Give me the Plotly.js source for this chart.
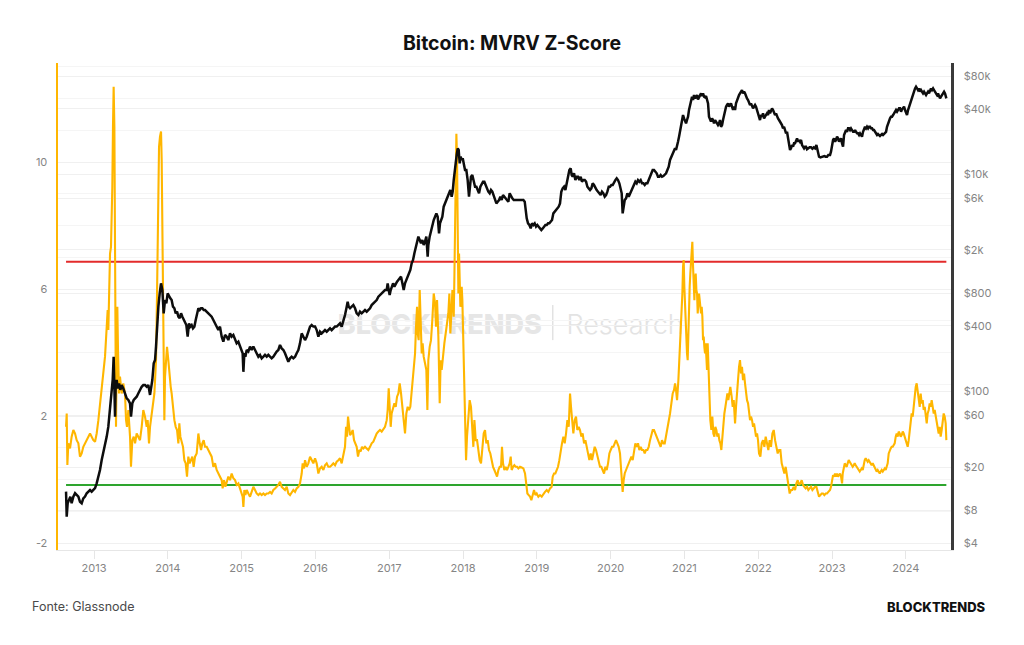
<!DOCTYPE html>
<html><head><meta charset="utf-8">
<script src="https://cdn.plot.ly/plotly-3.0.1.min.js"></script>
<style>html,body{margin:0;padding:0;background:#fff}#chart{width:1024px;height:645px}</style>
</head><body><div id="chart"></div>
<script>
// MVRV Z-Score (left axis), decimal years
const zYear = [
2012.621,2012.630,2012.639,2012.652,2012.675,2012.697,2012.720,2012.743,2012.765,2012.788,2012.810,2012.833,2012.855,2012.878,2012.901,2012.923,2012.946,2012.968,2012.991,
2013.014,2013.036,2013.059,2013.081,2013.104,2013.126,2013.149,2013.172,2013.185,2013.194,2013.208,2013.217,2013.230,2013.239,2013.248,2013.257,2013.266,2013.276,2013.285,2013.294,2013.298,
2013.307,2013.316,2013.325,2013.339,2013.352,2013.375,2013.397,2013.420,2013.434,2013.447,2013.465,2013.488,2013.501,2013.519,2013.538,2013.556,2013.578,2013.601,2013.623,2013.646,
2013.668,2013.691,2013.714,2013.727,2013.745,2013.759,2013.781,2013.799,2013.818,2013.827,2013.840,2013.854,2013.863,2013.872,2013.881,2013.894,2013.908,2013.917,2013.926,2013.935,
2013.944,2013.953,2013.962,2013.976,2013.989,2014.007,2014.021,2014.039,2014.052,2014.070,2014.089,2014.107,2014.125,2014.143,2014.156,2014.170,2014.188,2014.206,2014.224,2014.242,
2014.260,2014.278,2014.296,2014.314,2014.332,2014.350,2014.369,2014.391,2014.414,2014.432,2014.450,2014.468,2014.486,2014.504,2014.527,2014.549,2014.572,2014.594,2014.617,2014.640,
2014.662,2014.685,2014.707,2014.730,2014.743,2014.762,2014.780,2014.798,2014.820,2014.843,2014.865,2014.888,2014.911,2014.933,2014.956,2014.978,2015.001,2015.014,2015.024,2015.037,
2015.051,2015.069,2015.091,2015.114,2015.136,2015.159,2015.182,2015.204,2015.227,2015.249,2015.272,2015.295,2015.317,2015.340,2015.362,2015.385,2015.407,2015.430,2015.453,2015.475,
2015.498,2015.520,2015.543,2015.566,2015.588,2015.611,2015.633,2015.656,2015.678,2015.701,2015.724,2015.746,2015.769,2015.791,2015.814,2015.827,2015.846,2015.859,2015.882,2015.904,
2015.927,2015.949,2015.972,2015.995,2016.017,2016.040,2016.062,2016.085,2016.108,2016.130,2016.153,2016.175,2016.198,2016.220,2016.243,2016.266,2016.288,2016.311,2016.333,2016.356,
2016.379,2016.401,2016.415,2016.428,2016.442,2016.455,2016.469,2016.487,2016.505,2016.523,2016.541,2016.559,2016.577,2016.595,2016.613,2016.631,2016.650,
2016.672,2016.695,2016.717,2016.740,2016.762,2016.785,2016.808,2016.830,2016.853,2016.875,2016.898,2016.921,2016.943,2016.966,2016.979,2016.993,2017.006,2017.020,2017.033,2017.052,
2017.070,2017.088,2017.106,2017.124,2017.142,2017.160,2017.178,2017.196,2017.214,2017.232,2017.250,2017.268,2017.286,2017.304,2017.318,2017.332,2017.350,2017.363,2017.377,2017.386,
2017.399,2017.413,2017.426,2017.440,2017.453,2017.467,2017.485,2017.503,2017.517,2017.530,2017.548,2017.566,2017.584,2017.603,2017.621,2017.634,2017.648,2017.666,2017.684,2017.697,
2017.711,2017.729,2017.747,2017.765,2017.783,2017.801,2017.815,2017.828,2017.842,2017.856,2017.865,2017.874,2017.883,2017.892,2017.901,2017.910,2017.919,2017.928,2017.937,2017.946,
2017.955,2017.964,2017.973,2017.982,2017.991,2018.005,2018.018,2018.032,2018.041,2018.054,2018.072,2018.090,2018.108,2018.126,2018.140,2018.154,2018.172,2018.190,2018.208,2018.226,
2018.244,2018.262,2018.280,2018.298,2018.316,2018.334,2018.352,2018.370,2018.388,2018.407,2018.425,2018.443,2018.461,2018.479,2018.497,2018.515,2018.528,2018.542,2018.560,2018.578,
2018.596,2018.614,2018.632,2018.646,2018.659,2018.678,2018.696,2018.714,2018.732,2018.750,
2018.772,2018.795,2018.818,2018.840,2018.854,2018.872,2018.890,2018.908,2018.926,2018.944,2018.962,2018.980,2018.998,2019.021,2019.043,2019.066,2019.089,2019.111,2019.134,2019.156,
2019.179,2019.201,2019.215,2019.233,2019.251,2019.269,2019.287,2019.305,2019.323,2019.341,2019.360,2019.378,2019.396,2019.414,2019.432,2019.450,2019.463,2019.477,2019.495,2019.513,
2019.531,2019.549,2019.567,2019.585,2019.603,2019.621,2019.640,2019.658,2019.676,2019.694,2019.712,2019.730,2019.748,2019.766,2019.784,2019.802,2019.820,2019.838,2019.856,2019.874,
2019.892,2019.911,2019.929,2019.947,2019.965,2019.983,2020.001,2020.019,2020.037,2020.055,2020.073,2020.091,2020.109,2020.127,2020.141,2020.154,2020.163,2020.177,2020.191,2020.209,
2020.227,2020.245,2020.263,2020.281,2020.299,2020.317,2020.335,2020.353,2020.371,2020.389,2020.407,2020.425,2020.444,2020.462,2020.480,2020.498,2020.516,2020.534,2020.552,2020.570,
2020.588,2020.606,2020.624,2020.642,2020.660,2020.678,2020.696,2020.715,2020.733,2020.751,2020.769,2020.787,2020.805,2020.823,2020.841,2020.859,
2020.873,2020.886,2020.900,2020.918,2020.931,2020.945,2020.958,2020.972,2020.981,2020.990,2020.999,2021.008,2021.022,2021.035,2021.044,2021.053,2021.062,2021.071,2021.080,2021.089,
2021.098,2021.107,2021.117,2021.126,2021.135,2021.144,2021.153,2021.162,2021.171,2021.180,2021.189,2021.198,2021.207,2021.216,2021.225,2021.234,2021.243,2021.252,2021.261,2021.270,
2021.279,2021.288,2021.297,2021.306,2021.315,2021.324,2021.338,2021.351,2021.365,2021.378,2021.392,2021.406,2021.419,2021.433,2021.446,2021.460,2021.473,2021.487,2021.500,2021.514,
2021.528,2021.541,2021.555,2021.568,2021.582,2021.595,2021.609,2021.622,2021.640,2021.654,2021.668,2021.686,2021.699,2021.713,2021.726,2021.740,2021.753,2021.767,2021.780,2021.794,
2021.808,2021.821,2021.835,2021.848,2021.862,2021.875,2021.889,2021.902,2021.916,2021.930,2021.943,2021.957,2021.970,2021.984,2021.997,2022.011,2022.029,2022.047,2022.065,2022.083,
2022.101,2022.119,2022.137,2022.155,2022.173,2022.192,2022.210,2022.228,2022.246,2022.264,2022.282,2022.300,2022.318,2022.336,2022.354,2022.372,2022.390,2022.408,2022.426,2022.444,
2022.462,2022.481,2022.499,2022.517,2022.535,2022.553,2022.571,2022.589,2022.607,2022.625,2022.643,2022.661,2022.679,2022.697,2022.715,2022.734,2022.752,2022.770,2022.788,2022.806,
2022.824,2022.842,2022.860,2022.878,2022.896,2022.914,2022.932,2022.950,
2022.973,2022.986,2023.000,2023.014,2023.027,2023.041,2023.054,2023.068,2023.081,2023.095,2023.108,2023.122,2023.136,2023.145,2023.158,2023.172,2023.185,2023.199,2023.212,2023.226,
2023.239,2023.253,2023.267,2023.280,2023.294,2023.307,2023.321,2023.334,2023.348,2023.361,2023.375,2023.388,2023.402,2023.416,2023.429,2023.443,2023.456,2023.470,2023.483,2023.497,
2023.510,2023.524,2023.537,2023.551,2023.565,2023.578,2023.592,2023.605,2023.619,2023.632,2023.646,2023.659,2023.673,2023.687,2023.700,2023.714,2023.727,2023.741,2023.754,2023.768,
2023.781,2023.795,2023.808,2023.822,2023.836,2023.849,2023.863,2023.876,2023.890,2023.903,2023.917,2023.930,2023.944,2023.958,2023.971,2023.985,2023.998,2024.012,2024.025,2024.039,
2024.052,2024.066,2024.079,2024.093,2024.107,2024.120,2024.134,2024.147,2024.161,2024.174,2024.188,2024.201,2024.215,2024.229,2024.242,2024.256,2024.269,2024.283,2024.296,2024.310,
2024.323,2024.337,2024.350,2024.364,2024.378,2024.391,2024.405,2024.418,2024.432,2024.445,2024.459,2024.472,2024.486,2024.500,2024.513,2024.527,2024.540,2024.549
];
const zScore = [
1.66,2.08,0.46,1.14,0.98,1.35,1.56,1.45,1.24,1.14,0.72,0.82,1.03,1.14,1.24,1.35,1.45,1.35,1.24,
1.19,1.45,1.87,2.40,2.92,3.45,3.87,4.81,5.34,4.71,6.07,7.12,7.33,8.17,9.22,11.11,12.37,11.11,4.81,2.71,1.66,
3.76,5.44,4.08,2.71,3.24,2.71,3.03,2.71,1.87,1.66,2.19,1.35,0.40,1.24,1.35,1.14,1.45,1.35,1.24,1.66,
2.19,1.98,1.66,1.87,1.14,1.66,2.08,2.29,2.71,3.13,3.76,5.86,7.96,9.54,10.48,10.80,10.96,10.06,7.96,5.86,
3.97,1.87,3.24,3.97,4.18,3.76,3.24,2.92,2.71,2.19,1.87,1.66,1.56,1.14,1.77,1.35,1.14,1.03,0.61,0.51,
0.09,0.72,0.51,0.61,0.72,0.40,0.72,0.82,1.45,1.14,0.93,1.14,1.24,1.03,1.03,0.93,0.82,0.72,0.40,0.51,
0.30,0.19,0.09,-0.02,-0.28,-0.02,-0.23,-0.07,0.09,-0.02,0.19,0.04,-0.02,-0.17,-0.12,-0.28,-0.44,-0.54,-0.86,-0.33,
-0.49,-0.33,-0.44,-0.54,-0.39,-0.23,-0.33,-0.44,-0.49,-0.44,-0.49,-0.44,-0.49,-0.44,-0.44,-0.39,-0.44,-0.33,-0.28,-0.23,
-0.17,-0.07,-0.23,-0.28,-0.33,-0.23,-0.44,-0.49,-0.39,-0.33,-0.39,-0.28,-0.23,-0.12,0.19,0.51,0.35,0.61,0.40,0.51,
0.72,0.61,0.51,0.67,0.51,0.19,0.35,0.40,0.30,0.45,0.51,0.40,0.40,0.45,0.51,0.45,0.56,0.61,0.67,0.51,
0.82,1.03,1.66,1.35,1.98,1.56,1.40,1.45,1.56,1.24,1.14,1.03,0.72,0.93,0.88,1.03,0.98,
1.03,0.98,0.93,1.03,1.14,1.19,1.35,1.45,1.51,1.56,1.51,1.61,1.66,1.87,2.19,2.87,1.98,1.66,2.08,2.29,
2.40,2.29,2.61,2.71,3.03,2.71,2.19,1.87,1.45,2.08,2.29,2.19,2.29,2.71,3.13,3.55,3.97,4.81,5.44,4.60,
4.39,5.97,5.23,3.97,4.29,3.87,3.66,3.45,2.19,3.76,4.18,4.39,5.02,5.86,5.55,4.81,5.65,4.50,2.40,3.76,
3.45,3.97,4.29,4.60,4.92,5.23,5.86,4.60,5.23,5.97,5.65,5.13,6.39,7.96,9.22,10.89,10.06,8.17,5.86,7.12,
5.86,5.44,5.65,6.07,5.65,4.08,2.92,2.08,0.61,1.35,2.08,2.50,2.29,1.56,1.03,1.87,1.24,1.24,0.82,0.61,
0.51,1.14,1.45,1.56,1.14,1.24,0.93,0.82,0.61,0.40,0.30,0.19,0.09,0.30,0.40,0.40,1.03,0.51,0.30,0.40,
0.30,0.40,0.51,0.72,0.30,0.40,0.45,0.40,0.40,0.35,
0.40,0.38,0.35,0.19,-0.12,-0.44,-0.49,-0.54,-0.65,-0.44,-0.33,-0.49,-0.44,-0.54,-0.49,-0.54,-0.44,-0.39,-0.33,-0.39,
-0.28,-0.23,0.09,0.19,0.19,0.30,0.40,0.61,0.93,1.14,1.35,1.14,1.45,1.87,1.66,2.71,2.29,1.87,1.45,1.87,
1.98,1.56,1.66,1.56,1.35,1.45,1.14,1.24,1.03,0.72,0.61,0.82,0.61,0.82,1.03,0.93,0.72,0.51,0.40,0.40,
0.30,0.19,0.40,0.30,0.51,0.82,0.93,1.03,1.03,1.14,1.24,1.14,1.03,0.82,0.40,-0.02,-0.39,-0.02,0.19,0.30,
0.40,0.51,0.61,0.72,0.61,0.93,1.14,1.03,1.14,0.93,1.03,0.93,0.93,0.82,0.93,0.93,1.03,1.24,1.45,1.56,
1.56,1.45,1.35,1.24,1.14,1.03,1.24,1.14,1.14,1.35,1.56,1.87,2.08,2.40,2.71,2.82,
3.03,2.82,2.50,3.13,3.76,4.39,5.23,5.86,6.70,6.91,6.07,5.44,4.50,3.97,3.76,4.71,5.34,6.07,6.49,6.91,
7.23,7.49,6.70,6.07,5.65,6.28,6.49,5.97,5.86,5.23,5.44,5.86,5.65,5.34,5.23,5.44,5.13,4.39,4.50,4.18,
3.97,4.29,3.76,3.45,4.29,3.55,2.50,1.87,1.56,1.98,1.45,1.35,1.66,1.56,1.35,1.45,1.24,1.14,0.93,1.35,
1.87,2.08,2.29,2.61,2.71,2.50,2.71,2.92,2.61,2.29,2.50,1.77,2.29,2.92,3.13,3.55,3.76,3.34,3.55,3.13,
3.34,3.03,2.61,2.50,2.40,2.08,1.87,1.98,1.87,1.66,1.77,1.56,1.35,1.45,1.24,0.82,0.72,1.14,1.24,1.03,
1.35,1.14,0.93,1.24,1.03,1.45,1.56,1.24,1.03,0.82,0.93,0.93,0.51,0.30,0.19,0.40,0.09,-0.12,-0.44,-0.33,
-0.33,-0.23,-0.33,-0.12,-0.02,-0.17,-0.12,-0.02,-0.17,-0.23,-0.28,-0.23,-0.33,-0.28,-0.23,-0.33,-0.28,-0.23,-0.23,-0.44,
-0.54,-0.49,-0.44,-0.44,-0.49,-0.44,-0.44,-0.39,
-0.33,-0.23,-0.02,0.14,0.09,0.19,0.09,0.19,0.09,0.14,0.19,0.09,-0.12,0.19,0.40,0.51,0.45,0.40,0.51,0.61,
0.56,0.51,0.45,0.40,0.45,0.51,0.45,0.40,0.35,0.30,0.25,0.30,0.35,0.30,0.51,0.61,0.67,0.61,0.56,0.61,
0.56,0.51,0.45,0.51,0.45,0.40,0.35,0.25,0.30,0.25,0.19,0.25,0.30,0.25,0.30,0.35,0.30,0.45,0.51,0.82,
0.93,0.98,1.03,1.03,1.09,1.14,1.35,1.45,1.35,1.51,1.45,1.35,1.40,1.51,1.45,1.35,1.24,1.14,1.03,1.24,
1.56,1.77,2.08,1.98,2.40,2.71,2.92,3.03,2.82,2.61,2.29,2.71,2.40,2.50,2.19,2.29,2.08,1.77,2.08,2.19,
2.40,2.29,2.50,2.29,2.08,2.19,1.98,1.77,1.56,1.45,1.66,1.35,1.56,1.87,2.08,1.98,1.77,1.24
];

// Bitcoin price in USD (right axis, log), decimal years
const pYear = [
2012.621,2012.630,2012.643,2012.661,2012.679,2012.697,2012.720,2012.743,2012.765,2012.788,2012.810,2012.833,2012.855,2012.878,2012.901,2012.923,2012.946,2012.968,2012.991,
2013.014,2013.036,2013.059,2013.081,2013.104,2013.126,2013.149,2013.172,2013.194,2013.217,2013.239,2013.253,2013.266,2013.276,2013.285,2013.294,2013.307,2013.321,2013.339,2013.357,
2013.375,2013.397,2013.420,2013.443,2013.465,2013.488,2013.501,2013.519,2013.538,2013.556,2013.578,2013.601,2013.623,2013.646,2013.668,2013.691,2013.714,2013.736,2013.759,2013.772,
2013.790,2013.809,2013.827,2013.840,2013.854,2013.872,2013.890,2013.908,2013.926,2013.944,2013.962,2013.980,2013.998,2014.016,2014.034,2014.052,2014.070,2014.089,2014.107,2014.125,
2014.143,2014.161,2014.179,2014.197,2014.215,2014.233,2014.251,2014.269,2014.287,2014.305,2014.323,2014.341,2014.360,2014.378,2014.396,2014.414,2014.432,2014.450,2014.468,2014.486,
2014.504,2014.527,2014.549,2014.572,2014.594,2014.617,2014.640,
2014.662,2014.685,2014.707,2014.730,2014.752,2014.775,2014.798,2014.820,2014.843,2014.865,2014.888,2014.911,2014.933,2014.956,2014.978,2015.001,2015.014,2015.024,2015.037,2015.051,
2015.069,2015.091,2015.114,2015.136,2015.159,2015.182,2015.204,2015.227,2015.249,2015.272,2015.295,2015.317,2015.340,2015.362,2015.385,2015.407,2015.430,2015.453,2015.475,2015.498,
2015.520,2015.543,2015.566,2015.588,2015.611,2015.633,2015.656,2015.678,2015.701,2015.724,2015.746,2015.769,2015.791,2015.814,2015.837,2015.859,2015.882,2015.904,2015.927,2015.949,
2015.972,2015.995,2016.017,2016.040,2016.062,2016.085,2016.108,2016.130,2016.153,2016.175,2016.198,2016.220,2016.243,2016.266,2016.288,2016.311,2016.333,2016.356,2016.379,2016.401,
2016.424,2016.437,2016.451,2016.469,2016.491,2016.514,2016.537,2016.559,2016.582,2016.604,2016.627,2016.650,
2016.672,2016.695,2016.717,2016.740,2016.762,2016.785,2016.808,2016.830,2016.853,2016.875,2016.898,2016.921,2016.943,2016.966,2016.979,2016.993,2017.006,2017.020,2017.033,2017.052,
2017.070,2017.088,2017.106,2017.124,2017.142,2017.160,2017.178,2017.196,2017.214,2017.232,2017.250,2017.268,2017.286,2017.304,2017.323,2017.341,2017.359,2017.377,2017.395,2017.413,
2017.431,2017.449,2017.467,2017.485,2017.503,2017.521,2017.530,2017.548,2017.566,2017.584,2017.603,2017.621,2017.639,2017.657,2017.675,2017.688,2017.702,2017.720,2017.738,2017.756,
2017.774,2017.792,2017.810,2017.828,2017.846,2017.860,2017.874,2017.883,2017.892,2017.901,2017.914,2017.928,2017.941,2017.955,2017.968,2017.982,2017.996,2018.009,2018.027,2018.045,
2018.063,2018.081,2018.095,2018.108,2018.126,2018.145,2018.163,2018.181,2018.199,2018.217,2018.235,2018.253,2018.271,2018.289,2018.307,2018.325,2018.343,2018.361,2018.379,2018.397,
2018.416,2018.434,2018.452,2018.470,2018.488,2018.506,2018.524,2018.542,2018.560,2018.578,2018.596,2018.614,2018.632,2018.650,2018.668,2018.687,2018.705,2018.727,2018.750,
2018.772,2018.795,2018.818,2018.836,2018.849,2018.863,2018.881,2018.899,2018.917,2018.935,2018.953,2018.971,2018.989,2019.007,2019.025,2019.043,2019.061,2019.080,2019.098,2019.116,
2019.134,2019.152,2019.170,2019.188,2019.206,2019.224,2019.242,2019.260,2019.278,2019.296,2019.314,2019.332,2019.350,2019.369,2019.387,2019.405,2019.423,2019.441,2019.459,2019.472,
2019.486,2019.504,2019.522,2019.540,2019.558,2019.576,2019.594,2019.612,2019.631,2019.649,2019.667,2019.685,2019.703,2019.721,2019.739,2019.757,2019.775,2019.793,2019.811,2019.829,
2019.847,2019.865,2019.883,2019.902,2019.920,2019.938,2019.956,2019.974,2019.992,2020.010,2020.028,2020.046,2020.064,2020.082,2020.100,2020.118,2020.136,2020.150,2020.163,2020.177,
2020.191,2020.209,2020.227,2020.245,2020.263,2020.281,2020.299,2020.317,2020.335,2020.353,2020.371,2020.389,2020.407,2020.425,2020.444,2020.462,2020.480,2020.498,2020.516,2020.534,
2020.552,2020.570,2020.588,2020.606,2020.624,2020.642,2020.660,2020.678,2020.696,2020.715,2020.733,2020.751,2020.769,2020.787,2020.805,2020.823,2020.841,2020.859,
2020.873,2020.886,2020.900,2020.913,2020.927,2020.940,2020.954,2020.967,2020.981,2020.995,2021.008,2021.022,2021.035,2021.049,2021.062,2021.076,2021.089,2021.103,2021.117,2021.130,
2021.144,2021.157,2021.171,2021.184,2021.198,2021.211,2021.225,2021.239,2021.252,2021.266,2021.279,2021.293,2021.306,2021.320,2021.333,2021.347,2021.360,2021.374,2021.388,2021.401,
2021.415,2021.428,2021.442,2021.455,2021.469,2021.482,2021.496,2021.510,2021.523,2021.537,2021.550,2021.564,2021.577,2021.591,2021.604,2021.618,2021.631,2021.645,2021.659,2021.672,
2021.686,2021.699,2021.713,2021.726,2021.740,2021.753,2021.767,2021.780,2021.794,2021.808,2021.821,2021.835,2021.848,2021.862,2021.875,2021.889,2021.902,2021.916,2021.930,2021.943,
2021.957,2021.970,2021.984,2021.997,2022.011,2022.024,2022.038,2022.052,2022.065,2022.079,2022.092,2022.106,2022.119,2022.133,2022.146,2022.160,2022.173,2022.187,2022.201,2022.214,
2022.228,2022.241,2022.255,2022.268,2022.282,2022.295,2022.309,2022.322,2022.336,2022.350,2022.363,2022.377,2022.390,2022.404,2022.417,2022.431,2022.444,2022.458,2022.472,2022.485,
2022.499,2022.512,2022.526,2022.539,2022.553,2022.566,2022.580,2022.594,2022.607,2022.621,2022.634,2022.648,2022.661,2022.679,2022.697,2022.715,2022.734,2022.752,2022.770,2022.788,
2022.806,2022.824,2022.842,2022.860,2022.878,2022.896,2022.914,2022.932,2022.950,
2022.973,2022.986,2023.000,2023.014,2023.027,2023.041,2023.054,2023.068,2023.081,2023.095,2023.108,2023.122,2023.136,2023.149,2023.163,2023.176,2023.190,2023.203,2023.217,2023.230,
2023.244,2023.257,2023.271,2023.285,2023.298,2023.312,2023.325,2023.339,2023.352,2023.366,2023.379,2023.393,2023.406,2023.420,2023.434,2023.447,2023.461,2023.474,2023.488,2023.501,
2023.515,2023.528,2023.542,2023.556,2023.569,2023.583,2023.596,2023.610,2023.623,2023.637,2023.650,2023.664,2023.678,2023.691,2023.705,2023.718,2023.732,2023.745,2023.759,2023.772,
2023.786,2023.799,2023.813,2023.827,2023.840,2023.854,2023.867,2023.881,2023.894,2023.908,2023.921,2023.935,2023.948,2023.962,2023.976,2023.989,2024.003,2024.016,2024.030,2024.043,
2024.057,2024.070,2024.084,2024.098,2024.111,2024.125,2024.138,2024.152,2024.165,2024.179,2024.192,2024.206,2024.220,2024.233,2024.247,2024.260,2024.274,2024.287,2024.301,2024.314,
2024.328,2024.341,2024.355,2024.369,2024.382,2024.396,2024.409,2024.423,2024.436,2024.450,2024.463,2024.477,2024.491,2024.504,2024.518,2024.531,2024.545,2024.549
];
const price = [
11.9,7.0,9.3,10.0,10.7,9.3,10.7,11.5,11.1,10.7,9.6,9.3,10.3,10.7,11.5,11.9,12.3,11.9,12.3,
12.8,14.2,16.4,18.8,23.3,26.8,30.9,38.2,47.2,67.3,103,127,208,95.8,58.4,118,127,106,118,103,
114,106,95.8,86.1,83.2,77.4,58.4,77.4,83.2,86.1,89.1,95.8,103,110,114,114,110,114,92.5,106,
127,181,194,258,422,601,798,986,855,522,692,645,798,743,718,692,601,581,522,541,
486,470,522,486,453,422,407,318,422,394,407,380,394,453,522,581,560,581,581,560,
560,541,522,504,486,453,422,
394,366,394,318,286,330,318,296,341,318,330,296,276,286,258,240,224,151,224,208,
240,232,258,240,258,240,224,208,216,201,208,216,208,216,208,201,208,224,232,240,
267,248,240,224,208,187,201,208,201,208,224,240,276,341,318,296,318,354,394,407,
394,394,366,318,354,341,354,366,354,366,380,366,380,394,394,407,422,394,437,504,
601,668,601,581,601,622,581,522,504,541,522,541,
560,541,560,581,622,645,668,692,743,769,798,826,855,855,986,855,769,855,918,986,
918,986,1021,1059,1096,1136,986,855,986,1059,1136,1219,1308,1507,1617,1863,2072,2387,2654,2472,
2303,2472,2222,2387,2654,1735,2222,2654,3055,3517,3773,4053,4346,4053,2846,3517,3773,4053,5010,5376,
5770,6194,6650,7129,6194,6887,8810,10160,11700,13490,15000,17260,16670,12560,14450,13490,13960,12560,10890,10890,
8810,6194,7925,9460,9800,8810,7650,7650,7129,6650,7650,8220,8510,8510,7925,7129,6887,6650,7129,6887,
6410,5770,5376,5570,5770,6194,5770,6410,6194,5980,5770,5570,6650,6194,5980,5770,5770,5770,5770,
5770,5770,5770,5570,4670,3910,3517,3400,3160,3517,3400,3517,3280,3400,3280,3160,3055,3160,3280,3400,
3400,3517,3517,3647,3773,4346,4506,4670,4830,5010,5376,6887,7390,7650,7129,8220,9140,10890,11290,9800,
9460,10160,8810,9460,9460,8810,9460,8510,8810,8810,8510,7650,7390,7129,7390,8220,7925,7390,7129,6887,
6650,6410,6887,6650,6194,6410,6887,7650,7650,7925,7925,8510,8810,9140,8810,8220,7390,6650,4346,5376,
5770,5980,6650,6194,6650,7129,7390,8220,8510,8220,8810,8510,8810,8220,8220,7925,8220,8220,8810,9800,
10520,10890,10890,10520,10160,9460,9460,9800,9460,9600,9800,10160,10890,11700,13490,14450,15520,16080,
17260,16670,17870,19860,22080,24520,27290,31470,34990,32580,30390,29310,31470,33800,38920,43270,48120,51640,48120,53460,
49800,51640,53460,48740,50900,53460,55340,52350,55340,51640,50900,52350,48740,44790,33800,31470,30390,32580,31470,29310,
31470,30390,29310,28300,29310,31470,27290,28300,31470,34990,38920,41780,43270,44790,41780,43270,44790,41780,38920,41780,
38920,44790,48120,49800,53460,55340,57410,59430,55340,57410,55340,51640,49800,48120,44790,43270,44790,41780,40290,41780,
43270,41780,38920,37570,33800,31470,34990,33800,36250,32580,33800,34990,36250,34990,38920,36250,38920,40290,38920,36250,
34990,36250,33800,32580,31470,30390,29310,28300,26370,27290,25460,23710,24520,21330,17870,16670,17260,18520,17870,19190,
19190,20600,21330,19860,20600,19860,20600,18520,17870,17260,17870,17870,16900,17260,17620,17620,17130,17620,17260,18520,
16670,14450,14260,14450,14660,14660,14450,14450,15000,
15000,16080,18520,20600,21330,19860,20600,22080,21330,19860,20600,21330,19190,17870,22910,24520,25460,24520,26370,26370,
25460,26370,25460,24520,24520,25460,24520,23710,23710,22910,23710,22910,22080,24520,26370,27290,26370,27290,26370,27290,
27290,26370,26370,25460,25460,24520,23710,22910,23380,22910,22400,22910,23380,22910,23380,23710,24520,27290,29310,31470,
32580,33800,33800,34990,36250,37570,38920,37570,38920,40290,40290,37570,39450,40290,41780,38920,36250,34990,38920,41780,
44790,48120,51640,55340,57410,61540,63790,61540,59430,61540,57410,59430,57410,55340,57410,55340,53460,55340,57410,55340,
59430,61540,59430,61540,59430,57410,55340,53460,55340,51640,49800,51640,53460,55340,57410,55340,51640,49800
];

const topBand = 6.86;      // red reference level
const bottomBand = -0.17;  // green reference level
const yearTicks = [2013,2014,2015,2016,2017,2018,2019,2020,2021,2022,2023,2024];
const zTicks = [-2,2,6,10];
const priceTicks = [4,8,20,60,100,400,800,2000,6000,10000,40000,80000];
const priceTickText = ['$4','$8','$20','$60','$100','$400','$800','$2k','$6k','$10k','$40k','$80k'];

const bandX = [zYear[0], zYear[zYear.length-1]];
const traces = [
  {x: bandX, y: [topBand, topBand], type: 'scatter', mode: 'lines', line: {color: '#e32b2b', width: 2}, hoverinfo: 'skip'},
  {x: bandX, y: [bottomBand, bottomBand], type: 'scatter', mode: 'lines', line: {color: '#2ea52e', width: 2}, hoverinfo: 'skip'},
  {x: zYear, y: zScore, type: 'scatter', mode: 'lines', name: 'MVRV Z-Score', line: {color: '#ffb600', width: 2.1}},
  {x: pYear, y: price, type: 'scatter', mode: 'lines', name: 'Price', yaxis: 'y2', line: {color: '#0d0d0d', width: 2.5}}
];

const gray = '#858585';
const layout = {
  width: 1024, height: 645,
  paper_bgcolor: '#ffffff', plot_bgcolor: '#ffffff',
  font: {family: 'Inter, "Open Sans", sans-serif', color: gray},
  showlegend: false,
  margin: {l: 58, r: 73, t: 63, b: 95},
  title: {text: 'Bitcoin: MVRV Z-Score', x: 0.5, xanchor: 'center', y: 0.933, yanchor: 'middle', yref: 'container',
          font: {family: 'Inter, sans-serif', size: 19.5, weight: 700, color: '#111111'}},
  xaxis: {type: 'linear', range: [2012.512, 2024.612], tickvals: yearTicks, ticktext: yearTicks.map(String),
          showgrid: false, zeroline: false, showline: true, linecolor: '#e6e6e6', linewidth: 1,
          ticks: 'outside', ticklen: 8, tickcolor: '#e6e6e6', tickfont: {size: 11, color: gray}},
  yaxis: {range: [-2.22, 13.12], tickvals: zTicks, ticktext: zTicks.map(String), showgrid: true, gridcolor: '#f0f0f0',
          zeroline: false, showline: true, linecolor: '#ffb600', linewidth: 2.5, ticks: '', ticklabelstandoff: 6,
          tickfont: {size: 11, color: gray},
          minor: {dtick: 1, showgrid: true, gridcolor: '#f5f5f5', ticks: ''}},
  yaxis2: {type: 'log', overlaying: 'y', side: 'right', range: [0.538, 5.023], tickvals: priceTicks, ticktext: priceTickText,
           showgrid: true, gridcolor: '#f0f0f0', zeroline: false, showline: true, linecolor: '#3a3a3a', linewidth: 2.5,
           ticks: '', ticklabelstandoff: 8, tickfont: {size: 11, color: gray}},
  shapes: [
    {type: 'rect', xref: 'paper', yref: 'paper', x0: 0.30, x1: 0.555, y0: 0.43, y1: 0.50, layer: 'below',
     line: {width: 0}, fillcolor: 'rgba(0,0,0,0)',
     label: {text: 'BLOCKTRENDS', textposition: 'middle center', font: {family: 'Inter, sans-serif', size: 27, weight: 800, color: '#e6e6e6'}}},
    {type: 'line', xref: 'paper', yref: 'paper', x0: 0.554, x1: 0.554, y0: 0.431, y1: 0.503, layer: 'below', line: {color: '#e2e2e2', width: 1.5}},
    {type: 'rect', xref: 'paper', yref: 'paper', x0: 0.56, x1: 0.71, y0: 0.43, y1: 0.50, layer: 'below',
     line: {width: 0}, fillcolor: 'rgba(0,0,0,0)',
     label: {text: 'Research', textposition: 'middle center', font: {family: 'Inter, sans-serif', size: 27, weight: 300, color: '#e3e3e3'}}}
  ],
  annotations: [
    {text: 'Fonte: Glassnode', xref: 'paper', yref: 'paper', x: -0.0314, y: -0.117, xanchor: 'left', yanchor: 'middle', showarrow: false,
     font: {family: 'Inter, sans-serif', size: 12.5, color: '#4a4a4a'}},
    {text: 'BLOCKTRENDS', xref: 'paper', yref: 'paper', x: 1.0414, y: -0.117, xanchor: 'right', yanchor: 'middle', showarrow: false,
     font: {family: 'Inter, sans-serif', size: 13, weight: 800, color: '#111111'}}
  ]
};

Plotly.newPlot('chart', traces, layout, {displayModeBar: false, staticPlot: true});
</script>
</body></html>
